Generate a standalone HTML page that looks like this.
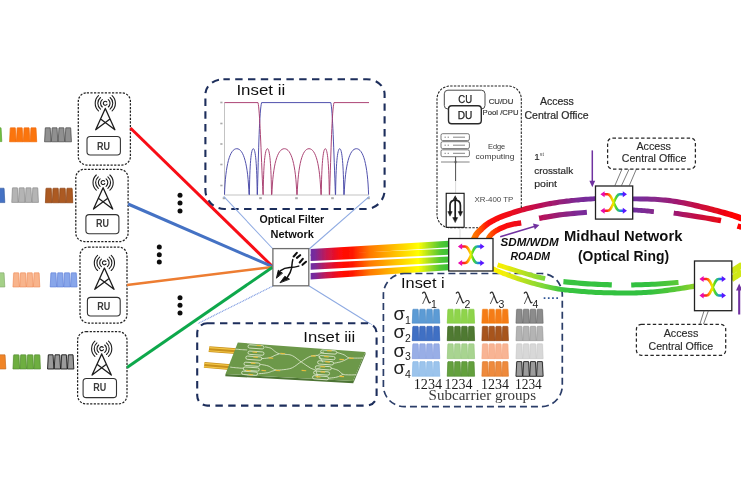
<!DOCTYPE html>
<html><head><meta charset="utf-8"><title>Network diagram</title>
<style>
html,body{margin:0;padding:0;background:#fff;}
body{width:741px;height:486px;overflow:hidden;font-family:"Liberation Sans",sans-serif;}
svg{display:block;}
text{font-family:"Liberation Sans",sans-serif;}
text.ser{font-family:"Liberation Serif",serif;}
</style></head><body>
<svg width="741" height="486" viewBox="0 0 741 486">
<defs>
<linearGradient id="gb" gradientUnits="userSpaceOnUse" x1="310" y1="0" x2="449" y2="0">
<stop offset="0" stop-color="#6c2ea4"/><stop offset="0.035" stop-color="#7a2a9a"/><stop offset="0.12" stop-color="#c81850"/><stop offset="0.22" stop-color="#ff0808"/><stop offset="0.3" stop-color="#ff1400"/>
<stop offset="0.43" stop-color="#ff7800"/><stop offset="0.62" stop-color="#ffc400"/><stop offset="0.78" stop-color="#ffff00"/><stop offset="0.856" stop-color="#a8e020"/><stop offset="0.934" stop-color="#54c830"/><stop offset="1" stop-color="#38c038"/>
</linearGradient>
<linearGradient id="gt" gradientUnits="userSpaceOnUse" x1="470" y1="0" x2="600" y2="0">
<stop offset="0" stop-color="#ff8a00"/><stop offset="0.07" stop-color="#ff5a00"/><stop offset="0.14" stop-color="#ff0c08"/><stop offset="0.27" stop-color="#f40814"/><stop offset="0.4" stop-color="#dc1030"/><stop offset="0.545" stop-color="#b81058"/><stop offset="0.69" stop-color="#962078"/><stop offset="0.83" stop-color="#7c2a96"/><stop offset="1" stop-color="#7030a0"/>
</linearGradient>
<linearGradient id="gt3" gradientUnits="userSpaceOnUse" x1="485" y1="0" x2="525" y2="0">
<stop offset="0" stop-color="#ff7a00"/><stop offset="0.2" stop-color="#ff4000"/><stop offset="0.4" stop-color="#ff0c08"/><stop offset="0.8" stop-color="#f00818"/><stop offset="1" stop-color="#e00c28"/>
</linearGradient>
<linearGradient id="gt2" gradientUnits="userSpaceOnUse" x1="632" y1="0" x2="741" y2="0">
<stop offset="0" stop-color="#7030a0"/><stop offset="0.24" stop-color="#8a2888"/><stop offset="0.41" stop-color="#a01870"/><stop offset="0.58" stop-color="#c01048"/><stop offset="0.76" stop-color="#e00820"/><stop offset="0.93" stop-color="#ff0000"/><stop offset="1" stop-color="#ff0000"/>
</linearGradient>
<linearGradient id="gl" gradientUnits="userSpaceOnUse" x1="493" y1="0" x2="741" y2="0">
<stop offset="0" stop-color="#fff200"/><stop offset="0.05" stop-color="#f0ee08"/><stop offset="0.12" stop-color="#b8e020"/><stop offset="0.2" stop-color="#80d838"/><stop offset="0.28" stop-color="#38c440"/><stop offset="0.62" stop-color="#30c040"/><stop offset="0.74" stop-color="#58c838"/><stop offset="0.815" stop-color="#90d428"/><stop offset="1" stop-color="#f0f000"/>
</linearGradient>
<linearGradient id="gx" gradientUnits="userSpaceOnUse" x1="0" y1="0" x2="26.6" y2="0">
<stop offset="0" stop-color="#e808b0"/><stop offset="0.14" stop-color="#f01060"/><stop offset="0.26" stop-color="#ff3010"/><stop offset="0.38" stop-color="#ffa000"/><stop offset="0.48" stop-color="#f0f000"/><stop offset="0.58" stop-color="#50d820"/><stop offset="0.7" stop-color="#20b0a0"/><stop offset="0.82" stop-color="#2060ff"/><stop offset="1" stop-color="#5a18ff"/>
</linearGradient>
<g id="xicon">
<path d="M3,0 H7.2 C9.8,0 10.8,2.6 13.3,8.25 S16.8,16.5 19.4,16.5 H23.6 M3,16.5 H7.2 C9.8,16.5 10.8,13.9 13.3,8.25 S16.8,0 19.4,0 H23.6" fill="none" stroke="url(#gx)" stroke-width="2.5"/>
<path d="M0,0 L4.2,-3 V3 Z M0,16.5 L4.2,13.5 V19.5 Z" fill="#e808b0"/>
<path d="M26.6,0 L22.4,-3 V3 Z M26.6,16.5 L22.4,13.5 V19.5 Z" fill="#5a18ff"/>
</g>
<g id="tower" fill="none" stroke="#1c1c1c" stroke-width="1.1" stroke-linecap="round">
<path d="M0,0 L-9.6,21.2 M0,0 L9.6,21.2 M-4.7,10.4 L9.6,21.2 M4.7,10.4 L-9.6,21.2" stroke-width="1.3"/>
<path d="M1.5,-6.6 A2,2 0 1 0 1.7,-4.2" />
<path d="M-3,-8.9 A4.8,4.8 0 0 0 -3,-1.5 M3,-8.9 A4.8,4.8 0 0 1 3,-1.5"/>
<path d="M-4.8,-11 A7.6,7.6 0 0 0 -4.8,0.6 M4.8,-11 A7.6,7.6 0 0 1 4.8,0.6"/>
<path d="M-6.8,-12.8 A10.4,10.4 0 0 0 -6.8,2.4 M6.8,-12.8 A10.4,10.4 0 0 1 6.8,2.4"/>
</g>
<filter id="soft" x="0" y="0" width="741" height="486" filterUnits="userSpaceOnUse"><feGaussianBlur stdDeviation="0.6"/></filter>
</defs>
<rect width="741" height="486" fill="#fff"/>
<g filter="url(#soft)">
<rect width="741" height="486" fill="#fff"/>

<g id="leftpulses">
<g><rect x="-6.0" y="128.3" width="8.0" height="13.3" fill="#e2f2d8"/><path d="M-5.85,141.60 L-5.00,127.80 L1.00,127.80 L1.85,141.60 Z " fill="#70c040" stroke="#599933" stroke-width="0.60"/></g>
<g><rect x="9.4" y="128.3" width="27.5" height="13.5" fill="#fde0c4"/><path d="M9.55,141.80 L10.40,127.80 L15.27,127.80 L16.12,141.80 Z M16.42,141.80 L17.27,127.80 L22.15,127.80 L23.00,141.80 Z M23.30,141.80 L24.15,127.80 L29.02,127.80 L29.88,141.80 Z M30.17,141.80 L31.02,127.80 L35.90,127.80 L36.75,141.80 Z " fill="#fb7410" stroke="#f06400" stroke-width="0.60"/></g>
<g><rect x="44.4" y="128.3" width="27.2" height="13.5" fill="#e4e4e4"/><path d="M44.55,141.80 L45.40,127.80 L50.20,127.80 L51.05,141.80 Z M51.35,141.80 L52.20,127.80 L57.00,127.80 L57.85,141.80 Z M58.15,141.80 L59.00,127.80 L63.80,127.80 L64.65,141.80 Z M64.95,141.80 L65.80,127.80 L70.60,127.80 L71.45,141.80 Z " fill="#909090" stroke="#484848" stroke-width="0.70"/></g>
<g><rect x="-6.0" y="188.7" width="11.0" height="13.9" fill="#d9e2f3"/><path d="M-5.85,202.60 L-5.00,188.20 L4.00,188.20 L4.85,202.60 Z " fill="#4472c4" stroke="#365b9c" stroke-width="0.60"/></g>
<g><rect x="11.6" y="188.3" width="27.0" height="14.1" fill="#e6e6e6"/><path d="M11.75,202.40 L12.60,187.80 L17.35,187.80 L18.20,202.40 Z M18.50,202.40 L19.35,187.80 L24.10,187.80 L24.95,202.40 Z M25.25,202.40 L26.10,187.80 L30.85,187.80 L31.70,202.40 Z M32.00,202.40 L32.85,187.80 L37.60,187.80 L38.45,202.40 Z " fill="#b4b4b4" stroke="#858585" stroke-width="0.60"/></g>
<g><rect x="45.2" y="188.7" width="27.8" height="14.1" fill="#e0bca0"/><path d="M45.35,202.80 L46.20,188.20 L51.15,188.20 L52.00,202.80 Z M52.30,202.80 L53.15,188.20 L58.10,188.20 L58.95,202.80 Z M59.25,202.80 L60.10,188.20 L65.05,188.20 L65.90,202.80 Z M66.20,202.80 L67.05,188.20 L72.00,188.20 L72.85,202.80 Z " fill="#ac5a22" stroke="#8a4216" stroke-width="0.60"/></g>
<g><rect x="-6.0" y="273.3" width="11.0" height="13.7" fill="#ecf5e7"/><path d="M-5.85,287.00 L-5.00,272.80 L4.00,272.80 L4.85,287.00 Z " fill="#a4d088" stroke="#83a66c" stroke-width="0.60"/></g>
<g><rect x="12.8" y="273.3" width="27.2" height="13.7" fill="#fde4d6"/><path d="M12.95,287.00 L13.80,272.80 L18.60,272.80 L19.45,287.00 Z M19.75,287.00 L20.60,272.80 L25.40,272.80 L26.25,287.00 Z M26.55,287.00 L27.40,272.80 L32.20,272.80 L33.05,287.00 Z M33.35,287.00 L34.20,272.80 L39.00,272.80 L39.85,287.00 Z " fill="#f8b48c" stroke="#ee8c58" stroke-width="0.60"/></g>
<g><rect x="50.0" y="273.3" width="27.2" height="13.7" fill="#d4dff6"/><path d="M50.15,287.00 L51.00,272.80 L55.80,272.80 L56.65,287.00 Z M56.95,287.00 L57.80,272.80 L62.60,272.80 L63.45,287.00 Z M63.75,287.00 L64.60,272.80 L69.40,272.80 L70.25,287.00 Z M70.55,287.00 L71.40,272.80 L76.20,272.80 L77.05,287.00 Z " fill="#88a6ea" stroke="#5c7cd6" stroke-width="0.60"/></g>
<g><rect x="-6.0" y="355.3" width="12.0" height="13.7" fill="#fce6d4"/><path d="M-5.85,369.00 L-5.00,354.80 L5.00,354.80 L5.85,369.00 Z " fill="#f08428" stroke="#c06920" stroke-width="0.60"/></g>
<g><rect x="12.8" y="355.3" width="27.8" height="13.7" fill="#c4e0ac"/><path d="M12.95,369.00 L13.80,354.80 L18.75,354.80 L19.60,369.00 Z M19.90,369.00 L20.75,354.80 L25.70,354.80 L26.55,369.00 Z M26.85,369.00 L27.70,354.80 L32.65,354.80 L33.50,369.00 Z M33.80,369.00 L34.65,354.80 L39.60,354.80 L40.45,369.00 Z " fill="#6eae40" stroke="#4e862c" stroke-width="0.60"/></g>
<g><rect x="47.4" y="355.3" width="26.6" height="13.7" fill="#dadada"/><path d="M47.55,369.00 L48.40,354.80 L53.05,354.80 L53.90,369.00 Z M54.20,369.00 L55.05,354.80 L59.70,354.80 L60.55,369.00 Z M60.85,369.00 L61.70,354.80 L66.35,354.80 L67.20,369.00 Z M67.50,369.00 L68.35,354.80 L73.00,354.80 L73.85,369.00 Z " fill="#9a9a9a" stroke="#1c1c1c" stroke-width="0.90"/></g>
</g>
<g id="ru">
<rect x="78.3" y="92.8" width="52.1" height="72.2" rx="8.5" ry="8.5" fill="#fff" stroke="#222" stroke-width="1.25" stroke-dasharray="2.2 1.4"/><use href="#tower" x="105.3" y="108.5"/><rect x="87.0" y="136.5" width="33.4" height="18.5" rx="3.2" ry="3.2" fill="#fff" stroke="#333" stroke-width="1.1"/><text x="103.6" y="149.5" font-size="10.5" font-weight="bold" fill="#3a3a3a" text-anchor="middle" textLength="13" lengthAdjust="spacingAndGlyphs">RU</text>
<rect x="75.8" y="169.3" width="52.3" height="72.2" rx="8.5" ry="8.5" fill="#fff" stroke="#222" stroke-width="1.25" stroke-dasharray="2.2 1.4"/><use href="#tower" x="103.1" y="187.8"/><rect x="85.9" y="214.6" width="33.0" height="19.1" rx="3.2" ry="3.2" fill="#fff" stroke="#333" stroke-width="1.1"/><text x="102.6" y="227.1" font-size="10.5" font-weight="bold" fill="#3a3a3a" text-anchor="middle" textLength="13" lengthAdjust="spacingAndGlyphs">RU</text>
<rect x="80.0" y="247.0" width="47.0" height="76.0" rx="8.5" ry="8.5" fill="#fff" stroke="#222" stroke-width="1.25" stroke-dasharray="2.2 1.4"/><use href="#tower" x="104.4" y="268.1"/><rect x="87.4" y="297.4" width="32.8" height="18.6" rx="3.2" ry="3.2" fill="#fff" stroke="#333" stroke-width="1.1"/><text x="103.7" y="310.4" font-size="10.5" font-weight="bold" fill="#3a3a3a" text-anchor="middle" textLength="13" lengthAdjust="spacingAndGlyphs">RU</text>
<rect x="77.6" y="331.6" width="49.4" height="72.3" rx="8.5" ry="8.5" fill="#fff" stroke="#222" stroke-width="1.25" stroke-dasharray="2.2 1.4"/><use href="#tower" x="101.7" y="353.9"/><rect x="83.1" y="378.5" width="33.4" height="19.1" rx="3.2" ry="3.2" fill="#fff" stroke="#333" stroke-width="1.1"/><text x="99.8" y="391.4" font-size="10.5" font-weight="bold" fill="#3a3a3a" text-anchor="middle" textLength="13" lengthAdjust="spacingAndGlyphs">RU</text>
</g>
<g id="lines" stroke-linecap="butt">
<line x1="130.4" y1="128" x2="272.5" y2="266.5" stroke="#f80c14" stroke-width="3"/>
<line x1="128.1" y1="204" x2="272.5" y2="266.7" stroke="#4472c4" stroke-width="3"/>
<line x1="127" y1="285" x2="272.5" y2="267" stroke="#ed7d31" stroke-width="2.6"/>
<line x1="127" y1="367.4" x2="272.5" y2="267.3" stroke="#10a84c" stroke-width="3"/>
</g>
<g fill="#111">
<circle cx="180.0" cy="195.3" r="2.5"/>
<circle cx="180.0" cy="203.0" r="2.5"/>
<circle cx="180.0" cy="211.0" r="2.5"/>
<circle cx="159.3" cy="247.0" r="2.5"/>
<circle cx="159.3" cy="254.7" r="2.5"/>
<circle cx="159.3" cy="262.0" r="2.5"/>
<circle cx="180.0" cy="297.7" r="2.5"/>
<circle cx="180.0" cy="305.3" r="2.5"/>
<circle cx="180.0" cy="313.0" r="2.5"/>
</g>
<g id="inset2">
<path d="M223.4,79.2 H366.6 A18,15 0 0 1 384.6,94.2 V190 A19,19 0 0 1 365.6,209 H224.4 A19,19 0 0 1 205.4,190 V94.2 A18,15 0 0 1 223.4,79.2 Z" fill="#fff" stroke="#1f2f5c" stroke-width="2.1" stroke-dasharray="7.4 5.4" stroke-dashoffset="1"/>
<text x="236.4" y="95.2" font-size="15.3" fill="#111" textLength="48.8" lengthAdjust="spacingAndGlyphs">Inset ii</text>
<path d="M224.5,102.5 V195 H369" fill="none" stroke="#9a9a9a" stroke-width="0.6"/>
<rect x="220.3" y="101.7" width="2.2" height="1.6" fill="#aaa"/>
<rect x="220.3" y="122.7" width="2.2" height="1.6" fill="#aaa"/>
<rect x="220.3" y="143.2" width="2.2" height="1.6" fill="#aaa"/>
<rect x="220.3" y="163.7" width="2.2" height="1.6" fill="#aaa"/>
<rect x="220.3" y="184.7" width="2.2" height="1.6" fill="#aaa"/>
<rect x="222.7" y="197.2" width="2.6" height="2" fill="#aaa"/>
<rect x="259.2" y="197.2" width="2.6" height="2" fill="#aaa"/>
<rect x="295.2" y="197.2" width="2.6" height="2" fill="#aaa"/>
<rect x="331.2" y="197.2" width="2.6" height="2" fill="#aaa"/>
<rect x="367.2" y="197.2" width="2.6" height="2" fill="#aaa"/>
<path d="M224.5,194.6 C225.5,164.6 229.9,148.7 236.8,148.7 C243.6,148.7 248.0,164.6 249.0,194.6 L249.4,194.6 C249.7,164.6 251.1,148.7 253.3,148.7 C255.5,148.7 256.9,164.6 257.2,194.6 L257.4,194.6 C258.5,150 259.5,110 261.6,102.6 L330.8,102.6 C332.6,110 333.8,150 335.4,194.6 L335.6,194.6 C335.9,164.6 337.4,148.7 339.7,148.7 C342.0,148.7 343.5,164.6 343.8,194.6 L344.2,194.6 C345.2,164.6 349.6,148.7 356.4,148.7 C363.2,148.7 367.6,164.6 368.6,194.6 " fill="none" stroke="#4848a8" stroke-width="0.95" stroke-linejoin="round"/>
<path d="M224.5,102.6 L258,102.6 C259.8,110 261,150 263,194.6 L263.2,194.6 C263.5,164.6 265.0,148.7 267.4,148.7 C269.7,148.7 271.2,164.6 271.5,194.6 L271.9,194.6 C272.9,164.6 277.4,148.7 284.4,148.7 C291.3,148.7 295.8,164.6 296.8,194.6 L297.2,194.6 C298.1,164.6 302.4,148.7 309.0,148.7 C315.7,148.7 320.0,164.6 320.9,194.6 L321.3,194.6 C321.6,164.6 323.1,148.7 325.3,148.7 C327.5,148.7 329.0,164.6 329.3,194.6 L329.6,194.6 C331,150 332,110 334,102.6 L369,102.6" fill="none" stroke="#a83c6e" stroke-width="0.95" stroke-linejoin="round"/>
</g>
<g stroke="#8eaae2" stroke-width="1.05" fill="none">
<line x1="223.7" y1="196.4" x2="273" y2="249"/>
<line x1="369.4" y1="196.4" x2="309.2" y2="249"/>
<line x1="273" y1="286" x2="198" y2="323.5" stroke="#7c9ae0" stroke-width="1.2" stroke-dasharray="1 0.7"/>
<line x1="309.2" y1="286" x2="372" y2="325"/>
</g>
<text x="291.9" y="223.4" font-size="10.5" font-weight="bold" fill="#111" text-anchor="middle" textLength="64.6" lengthAdjust="spacingAndGlyphs">Optical Filter</text>
<text x="292.2" y="237.8" font-size="10.5" font-weight="bold" fill="#111" text-anchor="middle" textLength="43.4" lengthAdjust="spacingAndGlyphs">Network</text>
<g id="bundle" fill="none" stroke="url(#gb)" stroke-linecap="butt">
<path d="M310.6,249.0 L449,240.8 L449,247.2 L310.6,256.0 Z" fill="url(#gb)" stroke="none"/>
<path d="M310.6,254.2 L449,248.8 L449,254.8 L310.6,261.0 Z" fill="url(#gb)" stroke="none"/>
<path d="M310.6,263.2 L449,256.4 L449,262.4 L310.6,269.8 Z" fill="url(#gb)" stroke="none"/>
<path d="M310.6,272.9 L449,264.1 L449,270.3 L310.6,279.5 Z" fill="url(#gb)" stroke="none"/>
</g>
<rect x="272.9" y="248.6" width="35.9" height="37.2" fill="#fff" stroke="#6e6e6e" stroke-width="1.3"/>
<g id="ficon" fill="none" stroke="#111" stroke-width="1.5" stroke-linecap="round">
<path d="M280.6,270.6 C283.4,268.4 286.4,267.6 289.6,267.5 C292.6,267.5 295.6,267.2 298.8,266.1"/>
<path d="M287.4,277.2 C289.4,274.4 291,271.4 291.6,268.2 C292,265.4 292,262.4 292.8,259.6"/>
<path d="M276.5,277.8 L278.3,270.2 L282.2,273 Z" fill="#111" stroke-width="0.9" stroke-linejoin="round"/>
<path d="M280.2,282.5 L284.8,276.3 L289.2,279 Z" fill="#111" stroke-width="0.9" stroke-linejoin="round"/>
<path d="M293.7,256.5 L296.8,252.9 M296.9,257.9 L300.1,255.2" stroke-width="2.1"/>
<path d="M299.7,262.5 L302.8,258.9 M302.5,264.8 L306,261.8" stroke-width="2.1"/>
</g>
<g id="inset3">
<rect x="197.2" y="323.2" width="179.4" height="82.4" rx="10" ry="10" fill="#fff" stroke="#1f2f5c" stroke-width="2.1" stroke-dasharray="7.4 5.4"/>
<text x="303.3" y="341.6" font-size="15.3" fill="#111" textLength="52" lengthAdjust="spacingAndGlyphs">Inset iii</text>
<path d="M209.4,346.2 L236.6,348.2 L235.6,354 L208.6,352 Z" fill="#c8901a"/>
<path d="M204.6,362 L231,364.2 L229.8,370 L203.8,367.8 Z" fill="#c8901a"/>
<path d="M209.3,347.6 L236.2,349.6 M208.9,350.8 L235.8,352.8 M204.4,363.4 L230.6,365.6 M204,366.6 L230.2,368.8" stroke="#f2c648" stroke-width="1.1" fill="none"/>
<path d="M225.5,374 L353,381 L353.3,383.2 L225.3,376.2 Z" fill="#4e7434"/>
<path d="M353,381 L365.3,352 L365.6,354 L353.3,383.2 Z" fill="#5a8040"/>
<path d="M237.8,342.6 L365.3,352 L353,381 L225.5,374 Z" fill="#6c984a"/>
<g fill="none" stroke="#e6eed6" stroke-width="0.8">
<rect x="248.0" y="345.2" width="16" height="3.3" rx="1.65" transform="rotate(4 256.0 346.8)"/>
<rect x="248.0" y="351.5" width="16" height="3.3" rx="1.65" transform="rotate(4 256.0 353.2)"/>
<rect x="245.8" y="356.5" width="16" height="3.3" rx="1.65" transform="rotate(4 253.8 358.1)"/>
<rect x="244.0" y="362.6" width="16" height="3.3" rx="1.65" transform="rotate(4 252.0 364.3)"/>
<rect x="243.3" y="367.4" width="16" height="3.3" rx="1.65" transform="rotate(4 251.3 369.0)"/>
<rect x="241.6" y="371.6" width="16" height="3.3" rx="1.65" transform="rotate(4 249.6 373.3)"/>
<rect x="320.7" y="350.4" width="16" height="3.3" rx="1.65" transform="rotate(4 328.7 352.0)"/>
<rect x="319.1" y="356.0" width="16" height="3.3" rx="1.65" transform="rotate(4 327.1 357.7)"/>
<rect x="317.6" y="361.2" width="16" height="3.3" rx="1.65" transform="rotate(4 325.6 362.9)"/>
<rect x="315.3" y="366.2" width="16" height="3.3" rx="1.65" transform="rotate(4 323.3 367.8)"/>
<rect x="313.6" y="371.4" width="16" height="3.3" rx="1.65" transform="rotate(4 321.6 373.0)"/>
<rect x="312.5" y="376.1" width="16" height="3.3" rx="1.65" transform="rotate(4 320.5 377.7)"/>
<path d="M235.4,349.2 L236.2,349.2 L237.4,349.3 L238.7,349.4 L240.1,349.6 L241.3,349.6 L242.6,349.7 L244.0,349.8 L245.3,349.8 L246.4,349.9 L247.2,349.9"/>
<path d="M230.2,367.1 L231.1,367.2 L232.3,367.4 L233.7,367.5 L235.2,367.7 L236.6,367.8 L238.1,367.9 L239.7,368.1 L241.3,368.2 L242.7,368.2 L243.7,368.3"/>
<path d="M265.0,346.8 L265.8,347.0 L267.0,347.2 L268.3,347.5 L269.7,347.8 L270.9,348.2 L271.8,348.8 L272.7,349.5 L273.5,350.2 L274.3,350.9 L275.1,351.5 L275.9,352.1 L276.6,352.5 L277.3,353.0 L278.1,353.3 L279.1,353.7 L280.4,353.9 L281.8,354.0 L283.3,354.1 L284.8,354.2 L286.2,354.4 L287.5,354.5 L288.7,354.6 L289.9,354.8 L291.2,355.2 L292.6,355.8 L294.2,356.7 L296.0,358.0 L297.8,359.4 L299.7,360.8 L301.6,362.2 L303.4,363.4 L305.3,364.7 L307.2,366.0 L309.0,367.1 L310.5,368.1 L311.9,368.7 L313.1,369.2 L314.2,369.5 L315.1,369.8 L315.7,370.0"/>
<path d="M261.9,358.6 L263.0,358.5 L264.5,358.4 L266.4,358.2 L268.1,358.0 L269.7,357.7 L270.9,357.3 L272.1,356.8 L273.1,356.3 L274.1,355.7 L275.1,355.3 L276.1,354.9 L277.0,354.6 L277.9,354.3 L278.6,354.1 L279.1,353.9"/>
<path d="M260.2,364.3 L261.3,364.5 L262.9,364.8 L264.8,365.1 L266.5,365.5 L268.0,365.9 L269.2,366.4 L270.2,367.0 L271.1,367.5 L271.9,368.1 L272.7,368.5 L273.4,368.9 L273.9,369.3 L274.4,369.6 L275.0,369.8 L276.1,370.0 L277.5,370.0 L279.3,370.0 L281.3,369.9 L283.2,369.7 L285.0,369.5 L286.6,369.3 L288.1,369.0 L289.5,368.7 L291.0,368.3 L292.6,367.6 L294.3,366.6 L296.1,365.4 L297.9,364.0 L299.7,362.7 L301.6,361.5 L303.4,360.3 L305.2,359.1 L307.0,358.0 L308.8,357.0 L310.5,356.3 L312.3,355.8 L314.0,355.5 L315.7,355.4 L317.1,355.4 L318.1,355.3"/>
<path d="M258.6,373.7 L259.8,373.6 L261.6,373.5 L263.7,373.3 L265.7,373.0 L267.3,372.8 L268.6,372.5 L269.6,372.2 L270.6,371.8 L271.4,371.4 L272.3,371.1 L273.2,370.9 L274.1,370.6 L274.9,370.3 L275.6,370.1 L276.1,370.0"/>
<path d="M318.1,355.3 L318.5,355.0 L319.0,354.5 L319.6,353.9 L320.3,353.4 L320.9,352.9 L321.6,352.7 L322.3,352.4 L323.0,352.2 L323.6,352.1 L324.0,352.0"/>
<path d="M318.1,355.3 L318.4,355.7 L318.9,356.2 L319.4,356.8 L319.9,357.4 L320.5,358.1 L321.0,359.0 L321.5,359.9 L322.0,360.9 L322.5,361.8 L322.8,362.4"/>
<path d="M337.0,352.5 L338.0,352.8 L339.4,353.2 L341.1,353.7 L342.7,354.3 L344.1,354.8 L345.1,355.4 L346.0,356.1 L346.8,356.7 L347.7,357.3 L348.8,357.7 L350.1,357.9 L351.4,358.1 L352.9,358.1 L354.4,358.1 L355.9,358.1 L357.5,358.1 L359.2,358.1 L360.9,358.0 L362.4,358.0 L363.4,357.9"/>
<path d="M333.7,363.3 L334.8,363.1 L336.4,362.8 L338.2,362.4 L340.0,362.0 L341.7,361.5 L343.3,360.8 L345.0,360.1 L346.5,359.3 L347.8,358.6 L348.8,358.1"/>
<path d="M315.7,370.0 L316.1,369.8 L316.5,369.5 L317.0,369.1 L317.6,368.8 L318.1,368.5 L318.6,368.3 L319.1,368.2 L319.7,368.0 L320.1,367.9 L320.5,367.8"/>
<path d="M315.7,370.0 L315.9,370.5 L316.1,371.3 L316.4,372.2 L316.7,373.1 L316.9,374.0 L317.1,374.8 L317.3,375.6 L317.4,376.4 L317.5,377.0 L317.6,377.5"/>
<path d="M331.3,368.1 L332.3,368.4 L333.7,368.8 L335.3,369.3 L336.8,369.8 L338.2,370.4 L339.2,371.1 L340.1,372.0 L340.9,372.8 L341.8,373.6 L342.9,374.2 L344.2,374.6 L345.6,374.8 L347.1,374.8 L348.6,374.9 L350.0,374.9 L351.4,374.9 L352.9,374.9 L354.3,374.8 L355.5,374.7 L356.4,374.7"/>
<path d="M328.7,378.2 L329.9,378.1 L331.5,377.9 L333.5,377.7 L335.4,377.4 L337.0,377.0 L338.4,376.6 L339.8,376.0 L341.1,375.4 L342.1,374.8 L342.9,374.4"/>
</g>
<g stroke="#e6be3c" stroke-width="1.2" fill="none">
<path d="M256.7,345.4 l4.6,0.35"/>
<path d="M252.5,352.0 l4.6,0.35"/>
<path d="M253.2,357.0 l4.6,0.35"/>
<path d="M250.8,363.1 l4.6,0.35"/>
<path d="M246.1,370.4 l4.6,0.35"/>
<path d="M248.5,374.4 l4.6,0.35"/>
<path d="M268.6,357.9 l4.6,0.35"/>
<path d="M261.5,370.4 l4.6,0.35"/>
<path d="M280.4,353.4 l4.6,0.35"/>
<path d="M275.6,370.4 l4.6,0.35"/>
<path d="M327.1,350.6 l4.6,0.35"/>
<path d="M324.1,356.5 l4.6,0.35"/>
<path d="M325.2,361.7 l4.6,0.35"/>
<path d="M320.5,366.6 l4.6,0.35"/>
<path d="M320.5,371.8 l4.6,0.35"/>
<path d="M315.8,376.6 l4.6,0.35"/>
<path d="M311.1,355.8 l4.6,0.35"/>
<path d="M339.4,359.3 l4.6,0.35"/>
<path d="M301.6,370.4 l4.6,0.35"/>
<path d="M339.4,376.3 l4.6,0.35"/>
<path d="M348.9,358.1 l4.6,0.35"/>
</g>
</g>
<g id="inset1">
<rect x="383.4" y="273.5" width="178.9" height="133.2" rx="21" ry="21" fill="#fff" stroke="#2a3c68" stroke-width="1.7" stroke-dasharray="7 4"/>
</g>
<g id="ring">
<path d="M476.3,241.8 L476.5,241.3 L476.8,240.6 L477.1,239.9 L477.5,239.0 L477.8,238.2 L478.2,237.4 L478.6,236.7 L479.0,236.1 L479.3,235.6 L479.7,235.1 L480.1,234.6 L480.6,234.1 L481.1,233.6 L481.6,233.1 L482.1,232.5 L482.7,231.9 L483.3,231.4 L483.8,230.8 L484.4,230.3 L485.0,229.7 L485.5,229.2 L486.1,228.7 L486.7,228.2 L487.3,227.7 L487.9,227.2 L488.5,226.8 L489.0,226.4 L489.5,226.0 L490.0,225.6 L490.7,225.2 L491.4,224.7 L492.4,224.2 L493.5,223.6 L494.7,222.9 L495.9,222.3 L497.3,221.6 L498.8,220.9 L500.3,220.1 L502.0,219.4 L503.8,218.7 L505.8,218.0 L507.9,217.2 L510.2,216.4 L512.6,215.6 L515.1,214.8 L517.6,214.0 L520.0,213.3 L522.4,212.6 L524.8,212.0 L527.1,211.3 L529.4,210.7 L531.8,210.2 L534.1,209.6 L536.4,209.1 L538.8,208.6 L541.1,208.1 L543.5,207.6 L545.8,207.1 L548.2,206.6 L550.5,206.2 L552.9,205.8 L555.2,205.4 L557.5,205.0 L559.9,204.6 L562.2,204.3 L564.6,204.0 L566.9,203.7 L569.3,203.4 L571.7,203.1 L574.0,202.8 L576.3,202.6 L578.6,202.4 L581.0,202.1 L583.5,201.9 L586.0,201.7 L588.5,201.5 L590.9,201.4 L593.0,201.2 L594.8,201.1 L596.2,201.0 L595.8,196.2 L594.5,196.3 L592.7,196.4 L590.6,196.5 L588.2,196.7 L585.7,196.8 L583.1,197.0 L580.6,197.2 L578.2,197.4 L575.9,197.7 L573.5,197.9 L571.1,198.1 L568.7,198.4 L566.3,198.6 L563.9,198.9 L561.5,199.2 L559.1,199.6 L556.7,199.9 L554.4,200.3 L552.0,200.7 L549.6,201.1 L547.2,201.5 L544.8,202.0 L542.4,202.5 L540.1,202.9 L537.7,203.4 L535.3,203.9 L532.9,204.4 L530.5,205.0 L528.2,205.6 L525.8,206.1 L523.4,206.8 L521.0,207.4 L518.5,208.1 L516.0,208.8 L513.5,209.6 L511.0,210.4 L508.5,211.2 L506.1,212.0 L503.9,212.7 L501.8,213.5 L499.9,214.3 L498.1,215.0 L496.4,215.8 L494.8,216.5 L493.4,217.2 L492.0,217.9 L490.8,218.6 L489.6,219.2 L488.6,219.8 L487.7,220.3 L486.9,220.8 L486.2,221.3 L485.5,221.7 L484.9,222.2 L484.3,222.6 L483.7,223.1 L483.0,223.6 L482.3,224.2 L481.6,224.8 L481.0,225.4 L480.3,225.9 L479.7,226.5 L479.1,227.1 L478.5,227.7 L477.9,228.2 L477.4,228.7 L476.8,229.3 L476.2,229.9 L475.6,230.5 L475.0,231.2 L474.4,231.9 L473.8,232.7 L473.3,233.6 L472.8,234.5 L472.3,235.5 L471.8,236.4 L471.4,237.3 L471.0,238.1 L470.8,238.7 L470.5,239.2 Z" fill="url(#gt)"/>
<path d="M631.9,201.2 L634.0,201.3 L636.7,201.3 L640.0,201.4 L643.6,201.5 L647.4,201.6 L651.1,201.7 L654.5,201.8 L657.5,202.0 L660.2,202.2 L662.7,202.4 L665.0,202.7 L667.3,203.0 L669.5,203.3 L671.7,203.6 L673.9,203.9 L676.2,204.3 L678.5,204.7 L680.8,205.1 L683.2,205.6 L685.5,206.1 L687.8,206.6 L690.2,207.1 L692.5,207.6 L694.9,208.2 L697.2,208.7 L699.6,209.3 L701.9,209.9 L704.3,210.5 L706.6,211.1 L709.0,211.7 L711.3,212.3 L713.7,213.0 L716.1,213.6 L718.6,214.3 L721.1,215.0 L723.6,215.7 L726.1,216.4 L728.4,217.1 L730.5,217.8 L732.4,218.3 L734.1,218.9 L735.6,219.4 L737.0,219.9 L738.3,220.4 L739.4,220.9 L740.4,221.3 L741.2,221.6 L741.9,221.9 L744.1,216.1 L743.4,215.9 L742.6,215.6 L741.6,215.2 L740.4,214.7 L739.1,214.3 L737.6,213.7 L736.0,213.2 L734.2,212.7 L732.2,212.1 L730.0,211.5 L727.7,210.8 L725.2,210.1 L722.7,209.4 L720.1,208.7 L717.6,208.1 L715.1,207.4 L712.8,206.8 L710.4,206.2 L708.0,205.6 L705.6,205.0 L703.3,204.5 L700.9,203.9 L698.5,203.3 L696.1,202.8 L693.7,202.3 L691.4,201.8 L689.0,201.3 L686.6,200.8 L684.2,200.3 L681.8,199.9 L679.4,199.5 L677.0,199.1 L674.7,198.7 L672.4,198.4 L670.2,198.1 L667.9,197.8 L665.6,197.6 L663.1,197.4 L660.6,197.2 L657.9,197.0 L654.8,196.8 L651.2,196.7 L647.5,196.6 L643.7,196.6 L640.1,196.5 L636.8,196.5 L634.1,196.4 L632.1,196.4 Z" fill="url(#gt2)"/>
<path d="M489.8,241.8 L490.0,241.4 L490.3,240.8 L490.6,240.2 L491.0,239.5 L491.4,238.9 L491.8,238.2 L492.2,237.6 L492.6,237.1 L493.0,236.6 L493.5,236.1 L494.0,235.7 L494.5,235.2 L495.0,234.7 L495.6,234.3 L496.3,233.8 L497.1,233.3 L498.0,232.8 L499.1,232.2 L500.2,231.6 L501.4,231.0 L502.6,230.4 L503.8,229.9 L505.0,229.4 L506.1,228.9 L507.1,228.6 L508.0,228.2 L509.0,228.0 L509.9,227.7 L510.8,227.5 L511.8,227.3 L512.8,227.1 L513.8,226.8 L514.8,226.6 L515.9,226.4 L517.0,226.3 L518.1,226.1 L519.2,225.9 L520.2,225.8 L521.0,225.7 L521.6,225.6 L520.8,220.2 L520.2,220.3 L519.4,220.4 L518.4,220.6 L517.3,220.7 L516.1,220.9 L514.9,221.1 L513.8,221.3 L512.6,221.6 L511.6,221.8 L510.6,222.0 L509.6,222.2 L508.6,222.5 L507.5,222.8 L506.4,223.1 L505.3,223.5 L504.1,223.9 L502.9,224.4 L501.6,224.9 L500.3,225.5 L499.0,226.1 L497.7,226.8 L496.5,227.4 L495.3,228.1 L494.3,228.7 L493.3,229.3 L492.5,229.9 L491.7,230.5 L490.9,231.1 L490.3,231.7 L489.6,232.4 L489.0,233.0 L488.4,233.7 L487.8,234.4 L487.2,235.3 L486.7,236.1 L486.3,236.9 L485.9,237.7 L485.5,238.3 L485.3,238.8 L485.0,239.2 Z" fill="url(#gt3)"/>
<path d="M539.6,221.0 L541.1,220.7 L543.1,220.3 L545.4,219.9 L548.0,219.4 L550.9,218.9 L553.8,218.4 L556.8,217.9 L559.8,217.5 L563.1,217.1 L566.8,216.7 L570.7,216.3 L574.7,215.9 L578.5,215.6 L582.0,215.3 L585.0,215.0 L587.1,214.8 L586.7,209.8 L584.5,210.0 L581.6,210.2 L578.1,210.5 L574.2,210.8 L570.2,211.2 L566.2,211.6 L562.5,211.9 L559.2,212.3 L556.1,212.7 L553.0,213.2 L550.0,213.7 L547.1,214.2 L544.5,214.6 L542.1,215.0 L540.2,215.4 L538.6,215.6 Z" fill="url(#gt)"/>
<path d="M631.9,212.3 L632.7,212.3 L633.8,212.4 L635.2,212.5 L636.7,212.6 L638.2,212.7 L639.8,212.8 L641.4,212.9 L642.8,213.0 L644.2,213.1 L645.8,213.3 L647.3,213.4 L648.9,213.6 L650.4,213.7 L651.7,213.9 L652.8,214.0 L653.7,214.1 L654.1,209.3 L653.3,209.2 L652.2,209.1 L650.9,209.0 L649.4,208.8 L647.8,208.6 L646.2,208.5 L644.7,208.3 L643.2,208.2 L641.7,208.1 L640.2,208.0 L638.5,207.9 L637.0,207.8 L635.5,207.7 L634.1,207.6 L633.0,207.6 L632.1,207.5 Z" fill="url(#gt2)"/>
<path d="M673.3,215.6 L675.0,215.8 L677.2,216.1 L679.8,216.5 L682.6,217.0 L685.7,217.4 L688.9,217.9 L692.1,218.4 L695.1,218.9 L698.3,219.4 L701.8,220.0 L705.5,220.6 L709.2,221.3 L712.7,221.9 L715.9,222.4 L718.6,222.9 L720.5,223.3 L721.5,217.9 L719.5,217.6 L716.8,217.2 L713.6,216.6 L710.1,216.0 L706.4,215.4 L702.6,214.8 L699.1,214.2 L695.9,213.7 L692.8,213.3 L689.7,212.8 L686.5,212.3 L683.4,211.9 L680.5,211.5 L677.9,211.1 L675.7,210.9 L674.1,210.6 Z" fill="url(#gt2)"/>
<path d="M736.7,228.6 L737.2,228.7 L737.9,228.9 L738.6,229.1 L739.5,229.4 L740.3,229.6 L741.1,229.9 L741.8,230.1 L742.2,230.2 L743.8,225.0 L743.3,224.9 L742.6,224.7 L741.9,224.5 L741.0,224.2 L740.2,224.0 L739.4,223.7 L738.7,223.5 L738.3,223.4 Z" fill="#ff0000"/>
<path d="M491.0,270.6 L491.9,271.0 L493.0,271.5 L494.3,272.1 L495.8,272.8 L497.4,273.5 L499.2,274.3 L501.1,275.1 L503.0,275.9 L505.1,276.6 L507.3,277.5 L509.7,278.3 L512.1,279.2 L514.6,280.1 L517.1,280.9 L519.6,281.7 L522.1,282.5 L524.4,283.3 L526.8,284.0 L529.2,284.7 L531.6,285.4 L534.0,286.0 L536.4,286.7 L538.7,287.3 L541.1,287.9 L543.5,288.5 L545.9,289.0 L548.3,289.5 L550.7,290.0 L553.0,290.5 L555.4,290.9 L557.8,291.4 L560.2,291.7 L562.6,292.1 L565.0,292.4 L567.4,292.6 L569.8,292.9 L572.2,293.1 L574.6,293.3 L576.9,293.5 L579.3,293.7 L581.6,293.9 L584.0,294.1 L586.3,294.3 L588.6,294.4 L591.0,294.6 L593.3,294.8 L595.8,294.9 L598.3,295.0 L600.9,295.1 L603.6,295.2 L606.3,295.3 L609.1,295.3 L611.9,295.3 L614.6,295.4 L617.3,295.4 L619.9,295.4 L622.4,295.4 L624.8,295.5 L627.2,295.5 L629.5,295.5 L631.8,295.5 L634.2,295.5 L636.5,295.4 L638.9,295.3 L641.3,295.2 L643.7,295.1 L646.0,295.0 L648.4,294.8 L650.8,294.7 L653.2,294.5 L655.6,294.3 L658.0,294.1 L660.4,293.8 L662.7,293.5 L665.1,293.2 L667.5,292.9 L669.9,292.6 L672.3,292.2 L674.6,291.9 L677.0,291.6 L679.4,291.2 L682.1,290.8 L684.7,290.4 L687.4,290.0 L689.9,289.6 L692.1,289.2 L694.0,288.9 L695.4,288.7 L694.6,283.5 L693.2,283.8 L691.3,284.1 L689.1,284.4 L686.6,284.8 L683.9,285.3 L681.3,285.7 L678.7,286.1 L676.2,286.4 L673.9,286.8 L671.5,287.1 L669.2,287.5 L666.8,287.8 L664.5,288.1 L662.1,288.4 L659.8,288.7 L657.4,288.9 L655.1,289.2 L652.8,289.4 L650.4,289.6 L648.1,289.8 L645.7,289.9 L643.4,290.0 L641.0,290.2 L638.7,290.3 L636.4,290.3 L634.1,290.4 L631.8,290.4 L629.5,290.4 L627.2,290.4 L624.8,290.4 L622.4,290.4 L619.9,290.4 L617.3,290.4 L614.7,290.3 L611.9,290.3 L609.2,290.3 L606.4,290.2 L603.7,290.2 L601.1,290.1 L598.5,290.0 L596.0,289.9 L593.6,289.8 L591.3,289.6 L589.0,289.5 L586.7,289.3 L584.4,289.1 L582.1,288.9 L579.7,288.7 L577.3,288.5 L575.0,288.3 L572.6,288.1 L570.3,287.9 L567.9,287.7 L565.6,287.5 L563.3,287.2 L561.0,286.9 L558.6,286.5 L556.3,286.1 L554.0,285.7 L551.6,285.2 L549.3,284.7 L547.0,284.2 L544.6,283.7 L542.3,283.1 L539.9,282.5 L537.6,281.9 L535.3,281.3 L532.9,280.7 L530.6,280.0 L528.2,279.3 L525.9,278.6 L523.5,277.9 L521.1,277.1 L518.7,276.3 L516.2,275.5 L513.7,274.6 L511.3,273.7 L509.0,272.9 L506.8,272.1 L504.8,271.3 L502.9,270.6 L501.1,269.9 L499.4,269.1 L497.8,268.4 L496.3,267.7 L495.0,267.1 L493.9,266.6 L493.0,266.2 Z" fill="url(#gl)"/>
<path d="M496.9,267.2 L498.1,267.6 L499.6,268.1 L501.5,268.6 L503.6,269.3 L505.8,270.0 L508.1,270.7 L510.4,271.4 L512.6,272.1 L514.8,272.8 L517.2,273.5 L519.7,274.3 L522.2,275.1 L524.7,275.8 L527.1,276.5 L529.4,277.2 L531.6,277.8 L533.6,278.4 L535.6,278.9 L537.5,279.4 L539.3,279.8 L540.9,280.2 L542.4,280.5 L543.6,280.8 L544.5,281.0 L545.7,276.4 L544.7,276.1 L543.5,275.8 L542.0,275.5 L540.4,275.1 L538.6,274.7 L536.7,274.2 L534.8,273.7 L532.8,273.2 L530.8,272.6 L528.5,271.9 L526.1,271.2 L523.6,270.5 L521.1,269.7 L518.6,268.9 L516.3,268.2 L514.0,267.5 L511.8,266.8 L509.5,266.1 L507.2,265.4 L505.0,264.7 L502.9,264.1 L501.1,263.5 L499.5,263.0 L498.3,262.6 Z" fill="url(#gl)"/>
<path d="M563.2,284.3 L565.1,284.5 L567.6,284.7 L570.6,285.0 L574.0,285.3 L577.5,285.6 L581.1,285.9 L584.6,286.2 L587.8,286.4 L591.0,286.6 L594.4,286.8 L597.9,286.9 L601.3,287.1 L604.5,287.2 L607.4,287.3 L609.9,287.4 L611.7,287.5 L611.9,282.3 L610.1,282.2 L607.6,282.1 L604.8,282.0 L601.5,281.9 L598.1,281.7 L594.7,281.6 L591.3,281.4 L588.2,281.2 L585.0,281.0 L581.5,280.7 L578.0,280.4 L574.4,280.1 L571.1,279.8 L568.1,279.5 L565.5,279.3 L563.6,279.1 Z" fill="url(#gl)"/>
<path d="M631.3,287.4 L633.1,287.4 L635.5,287.3 L638.5,287.2 L641.7,287.2 L645.1,287.1 L648.6,287.0 L652.0,286.8 L655.1,286.7 L658.3,286.5 L661.6,286.3 L665.1,286.0 L668.4,285.7 L671.6,285.5 L674.5,285.2 L676.9,285.0 L678.7,284.9 L678.3,279.9 L676.5,280.1 L674.1,280.3 L671.2,280.5 L668.0,280.8 L664.7,281.0 L661.3,281.3 L658.0,281.5 L654.9,281.7 L651.8,281.8 L648.4,282.0 L645.0,282.1 L641.6,282.2 L638.3,282.2 L635.4,282.3 L633.0,282.4 L631.1,282.4 Z" fill="url(#gl)"/>
<path d="M731.5,271.6 L742,264.8 M731.5,279.2 L742,272.2" stroke="#d0e818" stroke-width="6.2" fill="none"/>
</g>
<g id="inset1c">
<text x="401" y="287.6" font-size="15.3" fill="#111" textLength="43.6" lengthAdjust="spacingAndGlyphs">Inset i</text>
<g transform="translate(422.3,291.6)"><path d="M0.3,1.5 C1,0.2 2.3,0 2.9,1.3 L6.6,10.6 C6.9,11.4 7.5,11.4 8,10.7" fill="none" stroke="#2a2a2a" stroke-width="1.25" stroke-linecap="round"/><path d="M3.8,4.6 L0.5,12" fill="none" stroke="#2a2a2a" stroke-width="0.8" stroke-linecap="round"/></g>
<text x="430.9" y="307.6" font-size="10.5" fill="#222">1</text>
<g transform="translate(456.0,291.6)"><path d="M0.3,1.5 C1,0.2 2.3,0 2.9,1.3 L6.6,10.6 C6.9,11.4 7.5,11.4 8,10.7" fill="none" stroke="#2a2a2a" stroke-width="1.25" stroke-linecap="round"/><path d="M3.8,4.6 L0.5,12" fill="none" stroke="#2a2a2a" stroke-width="0.8" stroke-linecap="round"/></g>
<text x="464.6" y="307.6" font-size="10.5" fill="#222">2</text>
<g transform="translate(490.0,291.6)"><path d="M0.3,1.5 C1,0.2 2.3,0 2.9,1.3 L6.6,10.6 C6.9,11.4 7.5,11.4 8,10.7" fill="none" stroke="#2a2a2a" stroke-width="1.25" stroke-linecap="round"/><path d="M3.8,4.6 L0.5,12" fill="none" stroke="#2a2a2a" stroke-width="0.8" stroke-linecap="round"/></g>
<text x="498.6" y="307.6" font-size="10.5" fill="#222">3</text>
<g transform="translate(524.0,291.6)"><path d="M0.3,1.5 C1,0.2 2.3,0 2.9,1.3 L6.6,10.6 C6.9,11.4 7.5,11.4 8,10.7" fill="none" stroke="#2a2a2a" stroke-width="1.25" stroke-linecap="round"/><path d="M3.8,4.6 L0.5,12" fill="none" stroke="#2a2a2a" stroke-width="0.8" stroke-linecap="round"/></g>
<text x="532.6" y="307.6" font-size="10.5" fill="#222">4</text>
<path d="M543.7,298.2 h1.7 M547.9,298.2 h1.7 M552.1,298.2 h1.7 M556.3,298.2 h1.7" stroke="#2f5597" stroke-width="1.7" fill="none"/>
<text x="393.4" y="320.0" font-size="17.5" fill="#222" textLength="11.4" lengthAdjust="spacingAndGlyphs">&#963;</text>
<text x="405" y="323.6" font-size="10.5" fill="#222">1</text>
<text x="393.4" y="338.3" font-size="17.5" fill="#222" textLength="11.4" lengthAdjust="spacingAndGlyphs">&#963;</text>
<text x="405" y="341.9" font-size="10.5" fill="#222">2</text>
<text x="393.4" y="356.7" font-size="17.5" fill="#222" textLength="11.4" lengthAdjust="spacingAndGlyphs">&#963;</text>
<text x="405" y="360.3" font-size="10.5" fill="#222">3</text>
<text x="393.4" y="374.3" font-size="17.5" fill="#222" textLength="11.4" lengthAdjust="spacingAndGlyphs">&#963;</text>
<text x="405" y="377.9" font-size="10.5" fill="#222">4</text>
<g><rect x="412.0" y="309.7" width="28.0" height="13.5" fill="#b8d4ee"/><path d="M412.15,323.20 L413.00,309.20 L418.00,309.20 L418.85,323.20 Z M419.15,323.20 L420.00,309.20 L425.00,309.20 L425.85,323.20 Z M426.15,323.20 L427.00,309.20 L432.00,309.20 L432.85,323.20 Z M433.15,323.20 L434.00,309.20 L439.00,309.20 L439.85,323.20 Z " fill="#5b9bd5" stroke="#4a86c0" stroke-width="0.50"/></g>
<g><rect x="447.0" y="309.7" width="27.8" height="13.5" fill="#d8f0b8"/><path d="M447.15,323.20 L448.00,309.20 L452.95,309.20 L453.80,323.20 Z M454.10,323.20 L454.95,309.20 L459.90,309.20 L460.75,323.20 Z M461.05,323.20 L461.90,309.20 L466.85,309.20 L467.70,323.20 Z M468.00,323.20 L468.85,309.20 L473.80,309.20 L474.65,323.20 Z " fill="#8fd44c" stroke="#78c838" stroke-width="0.50"/></g>
<g><rect x="481.7" y="309.7" width="26.9" height="13.5" fill="#fcd4a8"/><path d="M481.85,323.20 L482.70,309.20 L487.43,309.20 L488.28,323.20 Z M488.57,323.20 L489.43,309.20 L494.15,309.20 L495.00,323.20 Z M495.30,323.20 L496.15,309.20 L500.88,309.20 L501.73,323.20 Z M502.02,323.20 L502.88,309.20 L507.60,309.20 L508.45,323.20 Z " fill="#f57c14" stroke="#f07408" stroke-width="0.50"/></g>
<g><rect x="515.8" y="309.7" width="27.5" height="13.5" fill="#cfcfcf"/><path d="M515.95,323.20 L516.80,309.20 L521.67,309.20 L522.52,323.20 Z M522.82,323.20 L523.67,309.20 L528.55,309.20 L529.40,323.20 Z M529.70,323.20 L530.55,309.20 L535.42,309.20 L536.27,323.20 Z M536.57,323.20 L537.42,309.20 L542.30,309.20 L543.15,323.20 Z " fill="#8c8c8c" stroke="#5a5a5a" stroke-width="0.50"/></g>
<g><rect x="412.0" y="326.8" width="28.0" height="13.9" fill="#9cb4e0"/><path d="M412.15,340.70 L413.00,326.30 L418.00,326.30 L418.85,340.70 Z M419.15,340.70 L420.00,326.30 L425.00,326.30 L425.85,340.70 Z M426.15,340.70 L427.00,326.30 L432.00,326.30 L432.85,340.70 Z M433.15,340.70 L434.00,326.30 L439.00,326.30 L439.85,340.70 Z " fill="#3f6fc4" stroke="#345eb0" stroke-width="0.50"/></g>
<g><rect x="447.0" y="326.8" width="27.8" height="13.9" fill="#9cb888"/><path d="M447.15,340.70 L448.00,326.30 L452.95,326.30 L453.80,340.70 Z M454.10,340.70 L454.95,326.30 L459.90,326.30 L460.75,340.70 Z M461.05,340.70 L461.90,326.30 L466.85,326.30 L467.70,340.70 Z M468.00,340.70 L468.85,326.30 L473.80,326.30 L474.65,340.70 Z " fill="#4f7a30" stroke="#3e6424" stroke-width="0.50"/></g>
<g><rect x="481.7" y="326.8" width="26.9" height="13.9" fill="#d4a888"/><path d="M481.85,340.70 L482.70,326.30 L487.43,326.30 L488.28,340.70 Z M488.57,340.70 L489.43,326.30 L494.15,326.30 L495.00,340.70 Z M495.30,340.70 L496.15,326.30 L500.88,326.30 L501.73,340.70 Z M502.02,340.70 L502.88,326.30 L507.60,326.30 L508.45,340.70 Z " fill="#a8551f" stroke="#8a4216" stroke-width="0.50"/></g>
<g><rect x="515.8" y="326.8" width="27.5" height="13.9" fill="#dedede"/><path d="M515.95,340.70 L516.80,326.30 L521.67,326.30 L522.52,340.70 Z M522.82,340.70 L523.67,326.30 L528.55,326.30 L529.40,340.70 Z M529.70,340.70 L530.55,326.30 L535.42,326.30 L536.27,340.70 Z M536.57,340.70 L537.42,326.30 L542.30,326.30 L543.15,340.70 Z " fill="#b4b4b4" stroke="#909090" stroke-width="0.50"/></g>
<g><rect x="412.0" y="344.3" width="28.0" height="14.4" fill="#d0daf4"/><path d="M412.15,358.70 L413.00,343.80 L418.00,343.80 L418.85,358.70 Z M419.15,358.70 L420.00,343.80 L425.00,343.80 L425.85,358.70 Z M426.15,358.70 L427.00,343.80 L432.00,343.80 L432.85,358.70 Z M433.15,358.70 L434.00,343.80 L439.00,343.80 L439.85,358.70 Z " fill="#98aee6" stroke="#8098dc" stroke-width="0.50"/></g>
<g><rect x="447.0" y="344.3" width="27.8" height="14.4" fill="#dcecd0"/><path d="M447.15,358.70 L448.00,343.80 L452.95,343.80 L453.80,358.70 Z M454.10,358.70 L454.95,343.80 L459.90,343.80 L460.75,358.70 Z M461.05,358.70 L461.90,343.80 L466.85,343.80 L467.70,358.70 Z M468.00,358.70 L468.85,343.80 L473.80,343.80 L474.65,358.70 Z " fill="#a8d490" stroke="#90c478" stroke-width="0.50"/></g>
<g><rect x="481.7" y="344.3" width="26.9" height="14.4" fill="#fcdccc"/><path d="M481.85,358.70 L482.70,343.80 L487.43,343.80 L488.28,358.70 Z M488.57,358.70 L489.43,343.80 L494.15,343.80 L495.00,358.70 Z M495.30,358.70 L496.15,343.80 L500.88,343.80 L501.73,358.70 Z M502.02,358.70 L502.88,343.80 L507.60,343.80 L508.45,358.70 Z " fill="#f8b494" stroke="#f4a078" stroke-width="0.50"/></g>
<g><rect x="515.8" y="344.3" width="27.5" height="14.4" fill="#ededed"/><path d="M515.95,358.70 L516.80,343.80 L521.67,343.80 L522.52,358.70 Z M522.82,358.70 L523.67,343.80 L528.55,343.80 L529.40,358.70 Z M529.70,358.70 L530.55,343.80 L535.42,343.80 L536.27,358.70 Z M536.57,358.70 L537.42,343.80 L542.30,343.80 L543.15,358.70 Z " fill="#d8d8d8" stroke="#c4c4c4" stroke-width="0.50"/></g>
<g><rect x="412.0" y="362.1" width="28.0" height="14.2" fill="#d4e6f8"/><path d="M412.15,376.30 L413.00,361.60 L418.00,361.60 L418.85,376.30 Z M419.15,376.30 L420.00,361.60 L425.00,361.60 L425.85,376.30 Z M426.15,376.30 L427.00,361.60 L432.00,361.60 L432.85,376.30 Z M433.15,376.30 L434.00,361.60 L439.00,361.60 L439.85,376.30 Z " fill="#9cc4ec" stroke="#84b4e4" stroke-width="0.50"/></g>
<g><rect x="447.0" y="362.1" width="27.8" height="14.2" fill="#b0d098"/><path d="M447.15,376.30 L448.00,361.60 L452.95,361.60 L453.80,376.30 Z M454.10,376.30 L454.95,361.60 L459.90,361.60 L460.75,376.30 Z M461.05,376.30 L461.90,361.60 L466.85,361.60 L467.70,376.30 Z M468.00,376.30 L468.85,361.60 L473.80,361.60 L474.65,376.30 Z " fill="#64a03c" stroke="#4c8430" stroke-width="0.50"/></g>
<g><rect x="481.7" y="362.1" width="26.9" height="14.2" fill="#f8ccaa"/><path d="M481.85,376.30 L482.70,361.60 L487.43,361.60 L488.28,376.30 Z M488.57,376.30 L489.43,361.60 L494.15,361.60 L495.00,376.30 Z M495.30,376.30 L496.15,361.60 L500.88,361.60 L501.73,376.30 Z M502.02,376.30 L502.88,361.60 L507.60,361.60 L508.45,376.30 Z " fill="#ee8a3c" stroke="#d87020" stroke-width="0.50"/></g>
<g><rect x="515.8" y="362.1" width="27.5" height="14.2" fill="#d0d0d0"/><path d="M515.95,376.30 L516.80,361.60 L521.67,361.60 L522.52,376.30 Z M522.82,376.30 L523.67,361.60 L528.55,361.60 L529.40,376.30 Z M529.70,376.30 L530.55,361.60 L535.42,361.60 L536.27,376.30 Z M536.57,376.30 L537.42,361.60 L542.30,361.60 L543.15,376.30 Z " fill="#9c9c9c" stroke="#222222" stroke-width="0.90"/></g>
<text x="413.7" y="389" font-size="15.6" fill="#1e1e1e" class="ser" textLength="28.4" lengthAdjust="spacingAndGlyphs">1234</text>
<text x="444.6" y="389" font-size="15.6" fill="#1e1e1e" class="ser" textLength="28.0" lengthAdjust="spacingAndGlyphs">1234</text>
<text x="481.0" y="389" font-size="15.6" fill="#1e1e1e" class="ser" textLength="28.0" lengthAdjust="spacingAndGlyphs">1234</text>
<text x="515.0" y="389" font-size="15.6" fill="#1e1e1e" class="ser" textLength="26.8" lengthAdjust="spacingAndGlyphs">1234</text>
<text x="428.6" y="399.8" font-size="15" fill="#3a3a3a" class="ser" textLength="107.4" lengthAdjust="spacingAndGlyphs">Subcarrier groups</text>
</g>
<g id="aco">
<path d="M521.3,208 V99 A13,13 0 0 0 508.3,86 H450 A13,13 0 0 0 437,99 V214.8 A13,13 0 0 0 450,227.8 H478" fill="none" stroke="#222" stroke-width="1.05" stroke-dasharray="2.4 1.3"/>
<rect x="444.3" y="90.2" width="40.7" height="18.8" rx="3.6" fill="#fff" stroke="#4a4a4a" stroke-width="1"/>
<rect x="448.5" y="105.8" width="32.8" height="18" rx="3.2" fill="#fff" stroke="#2a2a2a" stroke-width="1.4"/>
<text x="465.2" y="103.4" font-size="10.5" fill="#222" stroke="#222" stroke-width="0.25" text-anchor="middle" textLength="13.8" lengthAdjust="spacingAndGlyphs">CU</text>
<text x="465.1" y="118.7" font-size="10.5" fill="#222" stroke="#222" stroke-width="0.25" text-anchor="middle" textLength="14.6" lengthAdjust="spacingAndGlyphs">DU</text>
<text x="488.7" y="104" font-size="6.6" fill="#333" stroke="#333" stroke-width="0.15" textLength="24.6" lengthAdjust="spacingAndGlyphs">CU/DU</text>
<text x="482.6" y="115.2" font-size="6.6" fill="#333" stroke="#333" stroke-width="0.15" textLength="36" lengthAdjust="spacingAndGlyphs">Pool /CPU</text>
<rect x="441" y="133.7" width="28.4" height="6.9" rx="1.6" fill="#fff" stroke="#555" stroke-width="0.8"/>
<path d="M444.5,137.2 h1.4 M447.6,137.2 h1.4 M453,137.2 h12" stroke="#666" stroke-width="0.8" fill="none"/>
<rect x="441" y="141.7" width="28.4" height="6.9" rx="1.6" fill="#fff" stroke="#555" stroke-width="0.8"/>
<path d="M444.5,145.2 h1.4 M447.6,145.2 h1.4 M453,145.2 h12" stroke="#666" stroke-width="0.8" fill="none"/>
<rect x="441" y="149.8" width="28.4" height="6.9" rx="1.6" fill="#fff" stroke="#555" stroke-width="0.8"/>
<path d="M444.5,153.3 h1.4 M447.6,153.3 h1.4 M453,153.3 h12" stroke="#666" stroke-width="0.8" fill="none"/>
<path d="M441,162 H469.6" stroke="#666" stroke-width="0.8"/>
<circle cx="455.6" cy="162" r="1.1" fill="#fff" stroke="#555" stroke-width="0.6"/>
<path d="M455.6,156.8 V181" stroke="#444" stroke-width="0.95"/>
<path d="M455.6,181 V193.2" stroke="#ccc" stroke-width="0.7"/>
<path d="M460,227.2 V238.5" stroke="#ccc" stroke-width="0.7"/>
<text x="488" y="148.5" font-size="7" fill="#383838" textLength="17.2" lengthAdjust="spacingAndGlyphs">Edge</text>
<text x="475.6" y="158.9" font-size="7.4" fill="#383838" textLength="38.8" lengthAdjust="spacingAndGlyphs">computing</text>
<rect x="446.2" y="193.3" width="17.9" height="34" fill="#fff" stroke="#111" stroke-width="1.1"/>
<g fill="none" stroke="#1a1a1a" stroke-width="1.7">
<path d="M455.2,198 V218.6"/>
<path d="M450,212.6 V205.6 C450,201.6 452.4,200.2 455.2,200.2 C458,200.2 460.4,201.6 460.4,205.6 V212.6"/>
<path d="M452.7,217.6 L455.2,222.6 L457.7,217.6 Z M447.8,211.6 L450,216.2 L452.2,211.6 Z M458.2,211.6 L460.4,216.2 L462.6,211.6 Z" fill="#1a1a1a" stroke-width="0.5"/>
<path d="M453.4,199.8 L455.2,196.4 L457,199.8" stroke-width="1.1"/>
</g>
<text x="474.4" y="201.6" font-size="7" fill="#484848" textLength="39" lengthAdjust="spacingAndGlyphs">XR-400 TP</text>
<text x="556.9" y="105.4" font-size="10.5" fill="#2a2a2a" stroke="#2a2a2a" stroke-width="0.2" text-anchor="middle" textLength="34" lengthAdjust="spacingAndGlyphs">Access</text>
<text x="556.5" y="118.7" font-size="10.5" fill="#2a2a2a" stroke="#2a2a2a" stroke-width="0.2" text-anchor="middle" textLength="64" lengthAdjust="spacingAndGlyphs">Central Office</text>
<text x="534.2" y="160.3" font-size="9.8" fill="#262626" stroke="#262626" stroke-width="0.15">1</text><text x="539.8" y="156" font-size="5.4" fill="#555">st</text>
<text x="534.2" y="174" font-size="9.8" fill="#262626" stroke="#262626" stroke-width="0.15" textLength="39" lengthAdjust="spacingAndGlyphs">crosstalk</text>
<text x="534.2" y="186.9" font-size="9.8" fill="#262626" stroke="#262626" stroke-width="0.15" textLength="22.8" lengthAdjust="spacingAndGlyphs">point</text>
</g>
<rect x="448.7" y="238.5" width="44.3" height="32.5" fill="#fff" stroke="#222" stroke-width="1.3"/><use href="#xicon" x="457.9" y="246.5"/>
<rect x="595.5" y="186.0" width="37.2" height="33.1" fill="#fff" stroke="#222" stroke-width="1.3"/><use href="#xicon" x="600.4" y="194.3"/>
<rect x="694.5" y="261.0" width="37.3" height="49.7" fill="#fff" stroke="#222" stroke-width="1.3"/><use href="#xicon" x="699.4" y="279.0"/>
<g stroke="#7030a0" stroke-width="1.5" fill="#7030a0">
<path d="M500.2,236.8 L535,226.2" fill="none"/><path d="M539.4,224.9 L533,223.6 L534.8,229.6 Z" stroke="none"/>
<path d="M592.3,150.4 V182" fill="none"/><path d="M592.3,187.2 L589.4,180.8 H595.2 Z" stroke="none"/>
<path d="M739.2,314.5 V289" fill="none" stroke-width="2.1"/><path d="M739.2,283.4 L736,290.6 H742.4 Z" stroke="none"/>
</g>
<text x="500.6" y="246.3" font-size="11" font-weight="bold" font-style="italic" fill="#111" textLength="58" lengthAdjust="spacingAndGlyphs">SDM/WDM</text>
<text x="510.4" y="260.3" font-size="11" font-weight="bold" font-style="italic" fill="#111" textLength="39.6" lengthAdjust="spacingAndGlyphs">ROADM</text>
<text x="623.2" y="241.4" font-size="15" font-weight="bold" fill="#111" text-anchor="middle" textLength="118.4" lengthAdjust="spacingAndGlyphs">Midhaul Network</text>
<text x="623.5" y="261.4" font-size="15" font-weight="bold" fill="#111" text-anchor="middle" textLength="91" lengthAdjust="spacingAndGlyphs">(Optical Ring)</text>
<g stroke="#444" stroke-width="0.7"><path d="M622,169 L614.8,185.8 M629.2,169 L621.4,185.8 M636.4,169 L629.2,185.8"/><path d="M704.1,310.7 L699.8,324.4 M708.4,310.7 L703.4,324.4"/></g>
<rect x="607.6" y="138.0" width="87.8" height="31.0" rx="5" fill="#fff" stroke="#262626" stroke-width="1.25" stroke-dasharray="3.4 2.3"/><text x="653.7" y="149.8" font-size="10.5" fill="#2a2a2a" stroke="#2a2a2a" stroke-width="0.15" text-anchor="middle" textLength="34.6" lengthAdjust="spacingAndGlyphs">Access</text><text x="654.1" y="161.9" font-size="10.5" fill="#2a2a2a" stroke="#2a2a2a" stroke-width="0.15" text-anchor="middle" textLength="64.6" lengthAdjust="spacingAndGlyphs">Central Office</text>
<rect x="636.4" y="324.4" width="89.3" height="30.9" rx="5" fill="#fff" stroke="#262626" stroke-width="1.25" stroke-dasharray="3.4 2.3"/><text x="681.0" y="336.6" font-size="10.5" fill="#2a2a2a" stroke="#2a2a2a" stroke-width="0.15" text-anchor="middle" textLength="34.6" lengthAdjust="spacingAndGlyphs">Access</text><text x="680.8" y="350.4" font-size="10.5" fill="#2a2a2a" stroke="#2a2a2a" stroke-width="0.15" text-anchor="middle" textLength="64.6" lengthAdjust="spacingAndGlyphs">Central Office</text>
</g></svg></body></html>
